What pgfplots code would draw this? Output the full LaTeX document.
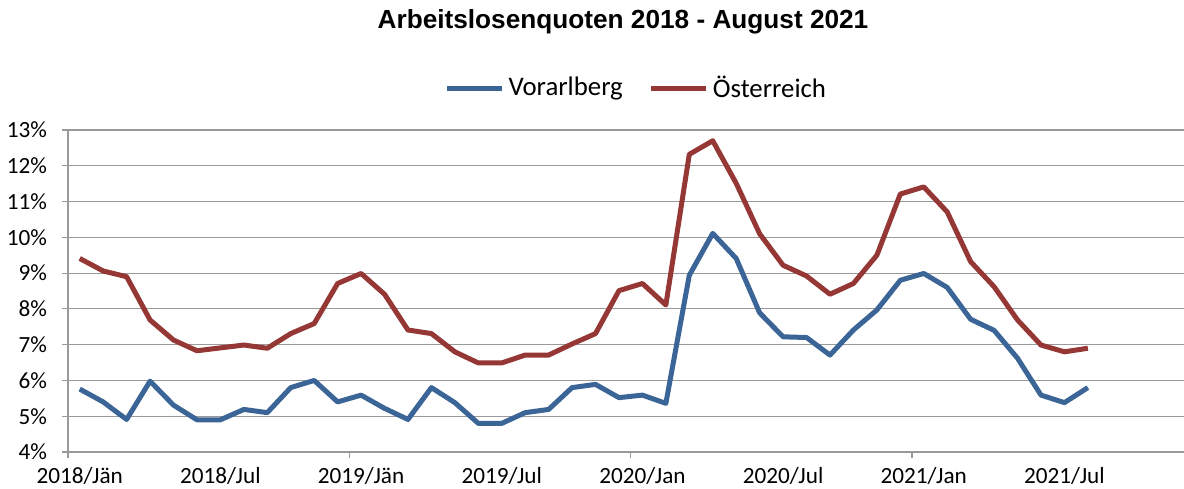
\documentclass[border=0pt]{standalone}
\usepackage{pgfplots}
\pgfplotsset{compat=1.18}
\usepackage{fontspec}
\setmainfont{Carlito}
\newfontfamily\titlefont{Liberation Sans}
\definecolor{vblue}{HTML}{3A6596}
\definecolor{ored}{HTML}{953735}
\definecolor{gridgray}{HTML}{9A9A9A}
\begin{document}
\begin{tikzpicture}
\useasboundingbox (-34pt,-18pt) rectangle (558pt,226pt);
\begin{axis}[
  at={(0pt,0pt)}, anchor=south west,
  scale only axis, width=558pt, height=161pt,
  xmin=-0.5, xmax=47.1, ymin=4, ymax=13,
  axis x line*=bottom, axis y line*=left,
  axis line style={gridgray, line width=0.6pt},
  ytick={4,5,6,7,8,9,10,11,12,13},
  yticklabels={4\%,5\%,6\%,7\%,8\%,9\%,10\%,11\%,12\%,13\%},
  ymajorgrids, grid style={gridgray, line width=0.6pt},
  xtick={-0.5,11.5,23.5,35.5}, xticklabels={},
  extra x ticks={0,6,12,18,24,30,36,42},
  extra x tick labels={2018/Jän,2018/Jul,2019/Jän,2019/Jul,2020/Jan,2020/Jul,2021/Jan,2021/Jul},
  extra x tick style={major tick length=0pt, grid=none},
  tick align=outside, major tick length=3pt,
  tick style={gridgray, line width=0.6pt},
  ticklabel style={font=\fontsize{11.6}{13}\selectfont, text=black},
  yticklabel style={xshift=-4pt},
  xticklabel style={yshift=-4pt},
  legend columns=2,
  legend style={draw=none, fill=none, at={(0.337,1.13)}, anchor=west,
    font=\fontsize{13.4}{15}\selectfont, inner sep=0pt,
    /tikz/every even column/.append style={column sep=11pt}},
  legend image code/.code={\draw[#1] (0pt,0pt) -- (27.5pt,0pt);},
  legend cell align=left,
]
\addplot[vblue, line width=2.5pt, line join=round] coordinates {
(0,5.76)(1,5.4)(2,4.91)(3,5.98)(4,5.31)(5,4.9)(6,4.9)(7,5.19)(8,5.1)(9,5.8)
(10,6.0)(11,5.4)(12,5.59)(13,5.22)(14,4.91)(15,5.8)(16,5.38)(17,4.8)(18,4.8)(19,5.1)
(20,5.19)(21,5.8)(22,5.89)(23,5.52)(24,5.59)(25,5.36)(26,8.94)(27,10.11)(28,9.41)(29,7.89)
(30,7.22)(31,7.2)(32,6.71)(33,7.41)(34,7.97)(35,8.8)(36,8.99)(37,8.6)(38,7.71)(39,7.4)
(40,6.62)(41,5.59)(42,5.38)(43,5.8)
};
\addlegendentry{Vorarlberg}
\addplot[ored, line width=2.5pt, line join=round] coordinates {
(0,9.41)(1,9.06)(2,8.9)(3,7.69)(4,7.13)(5,6.83)(6,6.91)(7,6.99)(8,6.9)(9,7.31)
(10,7.59)(11,8.71)(12,8.99)(13,8.41)(14,7.41)(15,7.31)(16,6.8)(17,6.49)(18,6.49)(19,6.71)
(20,6.71)(21,7.02)(22,7.31)(23,8.51)(24,8.71)(25,8.11)(26,12.32)(27,12.7)(28,11.51)(29,10.1)
(30,9.22)(31,8.92)(32,8.41)(33,8.71)(34,9.5)(35,11.21)(36,11.41)(37,10.71)(38,9.32)(39,8.62)
(40,7.69)(41,6.99)(42,6.8)(43,6.9)
};
\addlegendentry{Österreich}
\end{axis}
\node[font=\titlefont\bfseries\fontsize{13.1}{15}\selectfont] at (277.5pt,215pt) {Arbeitslosenquoten 2018 - August 2021};
\end{tikzpicture}
\end{document}
